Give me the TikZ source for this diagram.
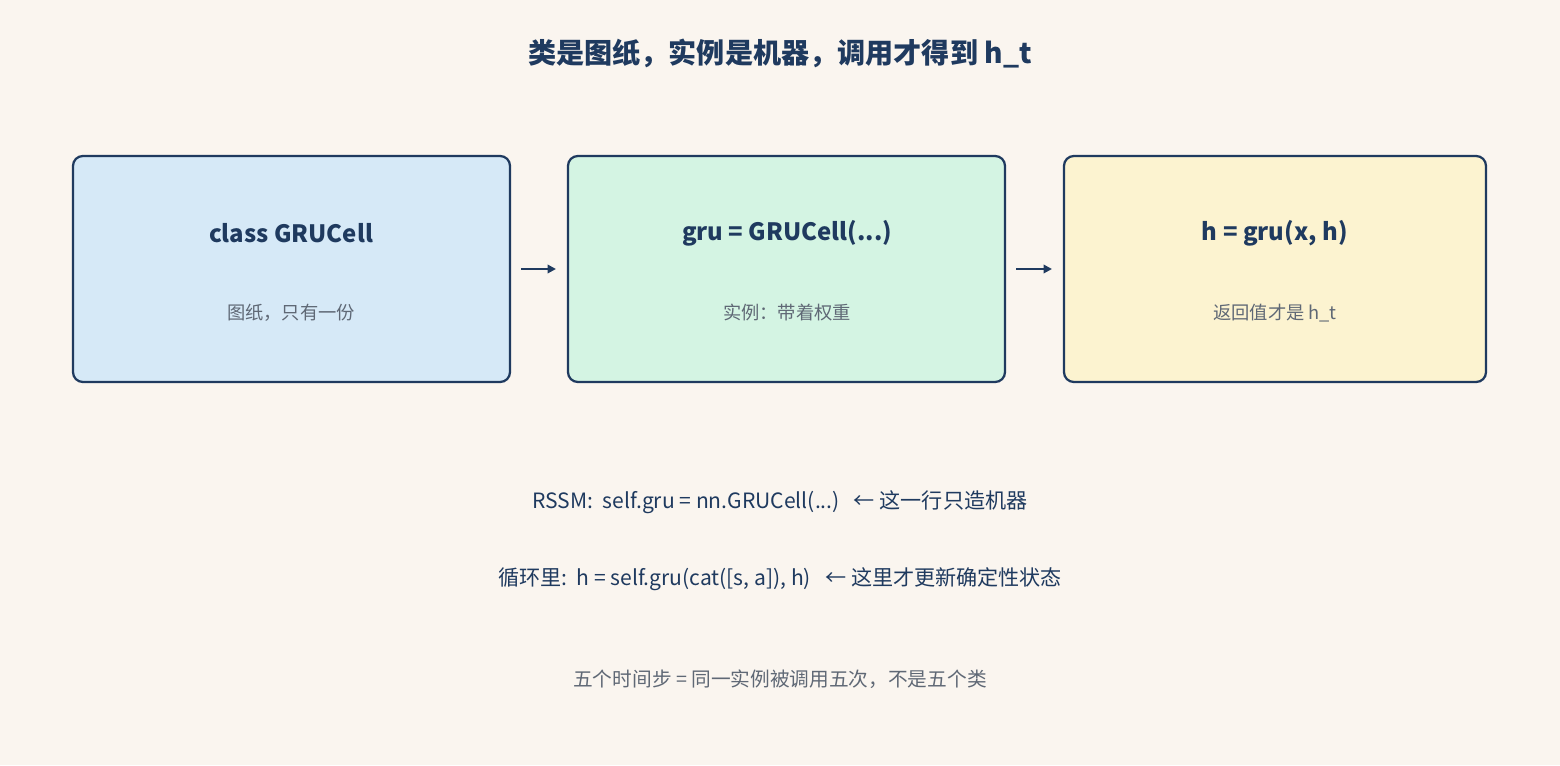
\documentclass[tikz,border=0pt]{standalone}
\usepackage{fontspec}
\setmainfont{Noto Sans CJK SC}
\usetikzlibrary{arrows.meta}
\definecolor{bg}{HTML}{FAF5EF}
\definecolor{ink}{HTML}{1F3A5F}
\definecolor{grey}{HTML}{5F6875}
\definecolor{cA}{HTML}{D6E9F7}
\definecolor{cB}{HTML}{D4F4E3}
\definecolor{cC}{HTML}{FCF3D0}
\begin{document}
\begin{tikzpicture}[x=0.025cm,y=-0.025cm,
  box/.style={draw=ink,line width=1.6pt,rounded corners=7pt},
  head/.style={font=\fontsize{17}{20}\selectfont\bfseries,text=ink},
  sub/.style={font=\fontsize{13}{16}\selectfont,text=grey},
  line/.style={font=\fontsize{15}{18}\selectfont,text=ink},
  arr/.style={draw=ink,line width=1.8pt,-{Triangle[length=6pt,width=6pt]}}]
\fill[bg] (0,0) rectangle (1560,765);
\useasboundingbox (0,0) rectangle (1560,765);
\node[font=\fontsize{20}{24}\selectfont\bfseries,text=ink] (title) at (780,54) {类是图纸，实例是机器，调用才得到 h\_t};
\draw[box,fill=cA] (73,156) rectangle (510,382);
\draw[box,fill=cB] (568,156) rectangle (1005,382);
\draw[box,fill=cC] (1064,156) rectangle (1486,382);
\coordinate (a1) at (521,269); \coordinate (a2) at (556,269);
\coordinate (b1) at (1016,269); \coordinate (b2) at (1052,269);
\draw[arr] (a1) -- (a2);
\draw[arr] (b1) -- (b2);
\node[head] (h1) at (291,233) {class GRUCell};
\node[sub] (s1) at (291,313) {图纸，只有一份};
\node[head] (h2) at (787,233) {gru = GRUCell(...)};
\node[sub] (s2) at (787,313) {实例：带着权重};
\node[head] (h3) at (1275,233) {h = gru(x, h)};
\node[sub] (s3) at (1275,313) {返回值才是 h\_t};
\node[line] (l1) at (780,502) {RSSM:\ \ self.gru = nn.GRUCell(...)\ \ \ ← 这一行只造机器};
\node[line] (l2) at (780,579) {循环里:\ \ h = self.gru(cat([s, a]), h)\ \ \ ← 这里才更新确定性状态};
\node[sub,font=\fontsize{14}{17}\selectfont] (l3) at (780,679) {五个时间步 = 同一实例被调用五次，不是五个类};
\end{tikzpicture}
\end{document}
